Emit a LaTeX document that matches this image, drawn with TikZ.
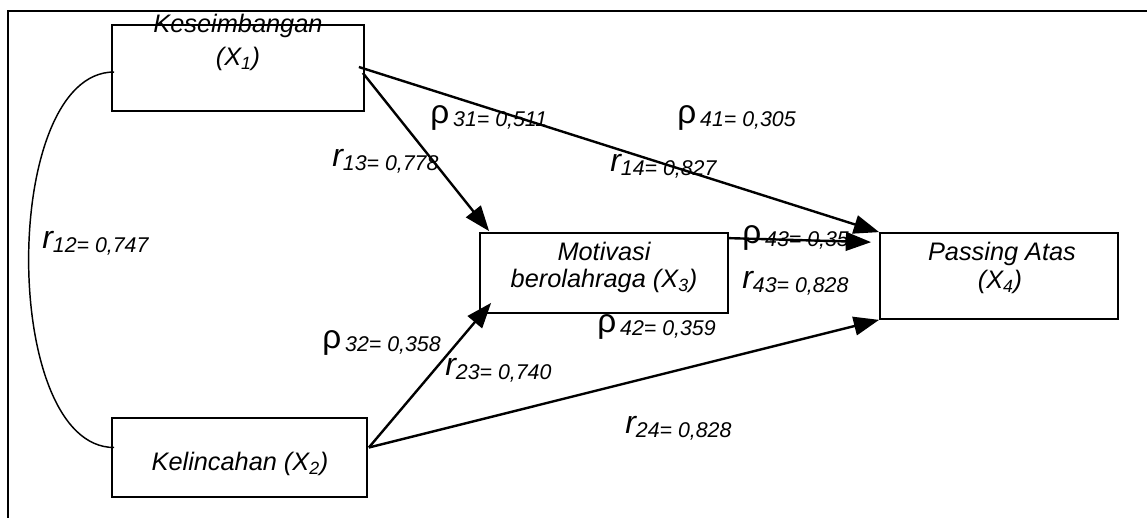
\documentclass[tikz,border=0pt]{standalone}
\usepackage{fontspec}
\setmainfont{Liberation Sans}
\usetikzlibrary{arrows.meta,calc}
\newcommand{\rholab}[2]{{\fontsize{25}{25}\selectfont ρ}\hspace{3pt}\raisebox{-2.5pt}{\fontsize{16}{16}\selectfont\itshape #1= #2}}
\newcommand{\rlab}[2]{{\fontsize{24}{24}\selectfont\itshape r}\raisebox{-3.5pt}{\fontsize{16}{16}\selectfont\itshape #1= #2}}
\tikzset{
  varbox/.style={draw, line width=1.3pt, minimum width=#1, inner sep=0pt},
  boxtext/.style={anchor=base, inner sep=0pt, font=\fontsize{19}{19}\selectfont\itshape},
  lab/.style={anchor=base west, inner sep=0pt},
  path/.style={line width=1.8pt, -{Triangle[length=19pt,width=14pt]}},
  corr/.style={line width=1.1pt},
  frameline/.style={line width=1.4pt}
}
\begin{document}
\begin{tikzpicture}[x=0.75pt,y=-0.75pt]
\useasboundingbox (0,0) rectangle (1147,518);
% frame
\coordinate (fa) at (8,518);
\coordinate (fb) at (8,11);
\coordinate (fc) at (1147,11);
\draw[frameline] (fa) -- (fb) -- (fc);
% boxes
\node[varbox=189pt, minimum height=64.5pt] (b1) at (238,68) {};
\node[varbox=191.25pt, minimum height=59.25pt] (b2) at (239.5,457.5) {};
\node[varbox=186pt, minimum height=60pt] (b3) at (604,273) {};
\node[varbox=178.5pt, minimum height=64.5pt] (b4) at (999,276) {};
% box texts
\node[boxtext] (t1a) at (238,32) {Keseimbangan};
\node[boxtext] (t1b) at (238,65) {(X\textsubscript{1})};
\node[boxtext] (t2) at (240,470) {Kelincahan (X\textsubscript{2})};
\node[boxtext] (t3a) at (604,260) {Motivasi};
\node[boxtext] (t3b) at (604,287) {berolahraga (X\textsubscript{3})};
\node[boxtext] (t4a) at (1002,260) {Passing Atas};
\node[boxtext] (t4b) at (1000,288) {(X\textsubscript{4})};
% labels
\node[lab] (l12) at (42,248) {\rlab{12}{0,747}};
\node[lab] (l13) at (332,166) {\rlab{13}{0,778}};
\node[lab] (l14) at (610,171) {\rlab{14}{0,827}};
\node[lab] (l43) at (742,288) {\rlab{43}{0,828}};
\node[lab] (l23) at (445,375) {\rlab{23}{0,740}};
\node[lab] (l24) at (625,433) {\rlab{24}{0,828}};
\node[lab] (p31) at (430,123) {\rholab{31}{0,511}};
\node[lab] (p41) at (677,123) {\rholab{41}{0,305}};
\node[lab] (p32) at (322,348) {\rholab{32}{0,358}};
\node[lab] (p42) at (597,332) {\rholab{42}{0,359}};
\node[lab] (p43) at (742,243) {\rholab{43}{0,35}};
% correlation curve
\coordinate (c1) at ($(b1.west)+(3,4)$);
\coordinate (c2) at ($(b2.west)+(3,-10)$);
\draw[corr] (c1) .. controls ($(c1)+(-114,0)$) and ($(c2)+(-114,0)$) .. (c2);
% paths
\coordinate (s1) at ($(b1.east)+(-6,-1)$);
\coordinate (s1b) at ($(b1.east)+(-2,5)$);
\coordinate (s2) at ($(b2.east)+(1,-10)$);
\coordinate (s3) at ($(b3.north east)+(0,6)$);
\coordinate (e3a) at ($(b3.north west)+(10,-1)$);
\coordinate (e3b) at ($(b3.south west)+(12,-11)$);
\coordinate (e4c) at ($(b4.north west)+(-8,10)$);
\draw[path] (s1) -- (b4.north west);
\draw[path] (s1b) -- (e3a);
\draw[path] (s2) -- (e3b);
\draw[path] (s2) -- (b4.south west);
\draw[path] (s3) -- (e4c);
\end{tikzpicture}
\end{document}
